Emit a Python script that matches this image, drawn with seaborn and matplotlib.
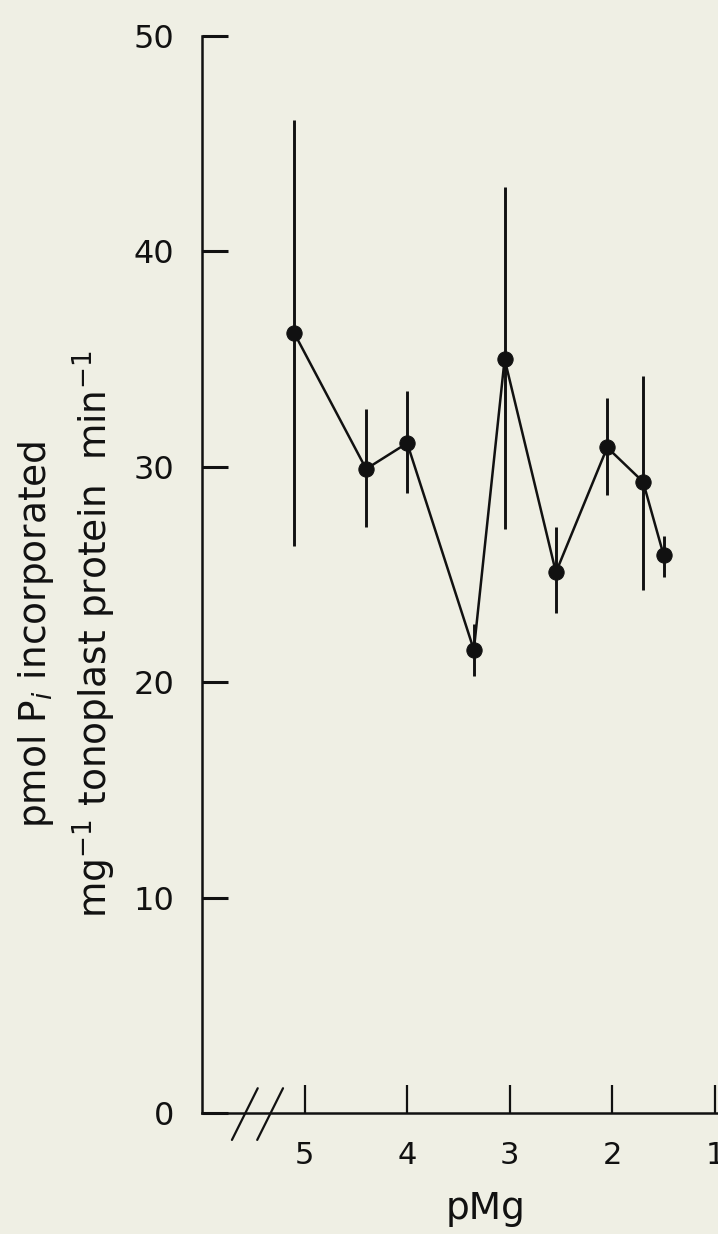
import matplotlib
matplotlib.use("Agg")
import matplotlib.pyplot as plt
import seaborn as sns
import pandas as pd

# Data
pmg = [5.1, 4.4, 4.0, 3.35, 3.05, 2.55, 2.05, 1.7, 1.5]
mean_rate = [36.2, 29.9, 31.1, 21.5, 35.0, 25.1, 30.9, 29.3, 25.9]
err_low = [26.3, 27.2, 28.8, 20.3, 27.1, 23.2, 28.7, 24.3, 24.9]
err_high = [46.1, 32.7, 33.5, 22.7, 43.0, 27.2, 33.2, 34.2, 26.8]
y_ticks = [0, 10, 20, 30, 40, 50]
x_ticks = [5, 4, 3, 2, 1]

df = pd.DataFrame({"pMg": pmg, "rate": mean_rate, "lo": err_low, "hi": err_high})

sns.set_theme(style="ticks")
plt.rcParams["font.family"] = ["DejaVu Sans"]
plt.rcParams["mathtext.fontset"] = "dejavusans"

bg = "#efefe4"
ink = "#111111"
fig = plt.figure(figsize=(7.18, 12.34), dpi=100, facecolor=bg)
ax = fig.add_axes([202 / 718, 121 / 1234, 516 / 718, (1113 - 36) / 1234])
ax.set_facecolor(bg)

# error bars
ax.vlines(df["pMg"], df["lo"], df["hi"], color=ink, linewidth=2.1, zorder=2)
# connecting line with markers
sns.lineplot(data=df, x="pMg", y="rate", ax=ax, color=ink, linewidth=1.8,
             marker="o", markersize=11, markeredgecolor=ink, markerfacecolor=ink,
             sort=False, zorder=3)

ax.set_xlim(6.0, 0.97)
ax.set_ylim(0, 50)
ax.set_xticks(x_ticks)
ax.set_yticks(y_ticks)
ax.set_xticklabels([str(t) for t in x_ticks])
ax.set_yticklabels([str(t) for t in y_ticks])

for s in ["top", "right"]:
    ax.spines[s].set_visible(False)
for s in ["left", "bottom"]:
    ax.spines[s].set_linewidth(1.8)
    ax.spines[s].set_color(ink)

ax.tick_params(axis="y", direction="in", length=19, width=2.2, pad=20,
               labelsize=23, colors=ink)
ax.tick_params(axis="x", direction="in", length=20, width=1.6, pad=20,
               labelsize=22, colors=ink)

ax.set_xlabel("pMg", fontsize=27, color=ink)
ax.xaxis.set_label_coords(0.55, -0.072)
ax.set_ylabel("")

# axis break marks
for xb in [0.083, 0.132]:
    ax.plot([xb - 0.025, xb + 0.025], [-0.025, 0.023], transform=ax.transAxes,
            color=ink, linewidth=1.6, clip_on=False)

fig.text(36 / 718, 0.486, r"pmol P$_{\mathit{i}}$ incorporated", rotation=90,
         ha="center", va="center", fontsize=27, color=ink)
fig.text(94 / 718, 0.486, r"mg$^{-1}$ tonoplast protein  min$^{-1}$", rotation=90,
         ha="center", va="center", fontsize=27, color=ink)

fig.savefig("out.png", dpi=100, facecolor=bg)
